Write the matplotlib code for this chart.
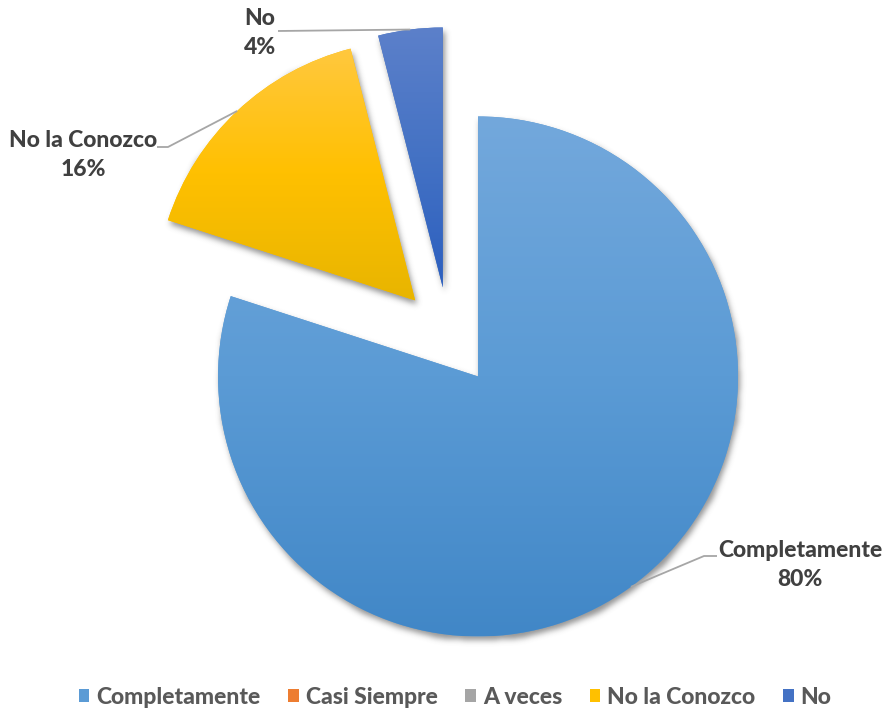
import numpy as np
import matplotlib
matplotlib.use("Agg")
import matplotlib.pyplot as plt
from matplotlib.patches import Patch
from matplotlib.path import Path
from matplotlib.colors import LinearSegmentedColormap

categories = ["Completamente", "Casi Siempre", "A veces", "No la Conozco", "No"]
values = [80, 0, 0, 16, 4]
explode = [0.19, 0, 0, 0.19, 0.19]
# top / middle / bottom shades of each slice
shades = [
    ["#73a8dc", "#5b9bd5", "#4187c7"],
    ["#f4894a", "#ed7d31", "#e06c1c"],
    ["#b5b5b5", "#a5a5a5", "#949494"],
    ["#ffc83f", "#ffc000", "#e8b500"],
    ["#5c80ca", "#4472c4", "#2c5fbf"],
]
legend_colors = ["#5b9bd5", "#ed7d31", "#a5a5a5", "#ffc000", "#4472c4"]

W, H, DPI = 886, 713, 100
CX, CY, R = 449.0, 336.5, 260.0  # pie centre and radius in pixels

plt.rcParams["font.family"] = ["Lato", "DejaVu Sans"]
fig = plt.figure(figsize=(W / DPI, H / DPI), dpi=DPI)
ax = fig.add_axes([0, 0, 1, 1])

wedges, _ = ax.pie(values, explode=explode, startangle=90, counterclock=False,
                   radius=1.0, wedgeprops=dict(linewidth=0))
xlim = (-CX / R, (W - CX) / R)
ylim = (-(H - CY) / R, CY / R)
ax.set_xlim(*xlim)
ax.set_ylim(*ylim)
ax.set_aspect("equal")
ax.axis("off")

# soft drop shadow under the slices
px = (np.arange(W) + 0.5 - CX) / R
py = (CY - (np.arange(H) + 0.5)) / R
gx, gy = np.meshgrid(px, py)
pts = np.column_stack([gx.ravel(), gy.ravel()])
mask = np.zeros(gx.size)
dx, dy = 2.0 / R, -4.0 / R
for w, v in zip(wedges, values):
    if v == 0:
        continue
    p = w.get_path()
    shifted = Path(p.vertices + np.array([dx, dy]), p.codes)
    mask = np.maximum(mask, shifted.contains_points(pts).astype(float))
mask = mask.reshape(gx.shape)
sig = 3.0
k = np.arange(-9, 10)
kern = np.exp(-k ** 2 / (2 * sig ** 2))
kern /= kern.sum()
mask = np.apply_along_axis(lambda r: np.convolve(r, kern, mode="same"), 1, mask)
mask = np.apply_along_axis(lambda c: np.convolve(c, kern, mode="same"), 0, mask)
shadow = np.zeros((H, W, 4))
shadow[..., :3] = 0.3
shadow[..., 3] = mask * 0.6
ax.imshow(shadow, extent=(xlim[0], xlim[1], ylim[0], ylim[1]), origin="upper",
          zorder=0.5, interpolation="bilinear", aspect="auto")

# vertical gradient fill clipped to each slice
grad = np.linspace(0, 1, 256).reshape(-1, 1)
for w, v, sh in zip(wedges, values, shades):
    w.set_zorder(1)
    if v == 0:
        w.set_visible(False)
        continue
    w.set_facecolor(sh[1])
    ext = w.get_path().get_extents()
    cmap = LinearSegmentedColormap.from_list("g", sh[::-1])
    im = ax.imshow(grad, cmap=cmap, origin="lower",
                   extent=(ext.x0, ext.x1, ext.y0, ext.y1),
                   aspect="auto", zorder=2, interpolation="bilinear")
    im.set_clip_path(w)
ax.set_xlim(*xlim)
ax.set_ylim(*ylim)

# data labels with leader lines
def to_data(x, y):
    return ((x - CX) / R, (CY - y) / R)

label_color = "#404040"
line_color = "#a6a6a6"
angles = []
start = 90.0
total = sum(values)
for v in values:
    sweep = 360.0 * v / total
    angles.append((start, start - sweep))
    start -= sweep

label_pos = {0: (800, 565), 3: (83, 155), 4: (260, 33)}
elbow = {0: ((717, 556), (704, 556)), 3: ((157, 147), (168, 147)), 4: ((278, 31), (278, 31))}
for i, (lab, v) in enumerate(zip(categories, values)):
    if v == 0:
        continue
    a0, a1 = angles[i]
    mid = np.deg2rad((a0 + a1) / 2)
    c = np.array(wedges[i].center)
    tip = c + np.array([np.cos(mid), np.sin(mid)])
    e1 = to_data(*elbow[i][0])
    e2 = to_data(*elbow[i][1])
    ax.plot([e1[0], e2[0], tip[0]], [e1[1], e2[1], tip[1]], color=line_color,
            lw=1.3, zorder=3, solid_capstyle="butt")
    tx, ty = to_data(*label_pos[i])
    ax.text(tx, ty, f"{lab}\n{v}%", ha="center", va="center", fontsize=16.5,
            fontweight="black", color=label_color, linespacing=1.5, zorder=4)

handles = [Patch(facecolor=c, edgecolor="none") for c in legend_colors]
leg = ax.legend(handles, categories, loc="center",
                bbox_to_anchor=(455 / W, 1 - 697 / H),
                bbox_transform=fig.transFigure, ncol=5, frameon=False,
                handlelength=0.47, handleheight=0.47, handletextpad=0.3,
                columnspacing=1.2, prop=dict(weight="black", size=16.5))
for t in leg.get_texts():
    t.set_color("#595959")

fig.savefig("out.png", dpi=DPI)
